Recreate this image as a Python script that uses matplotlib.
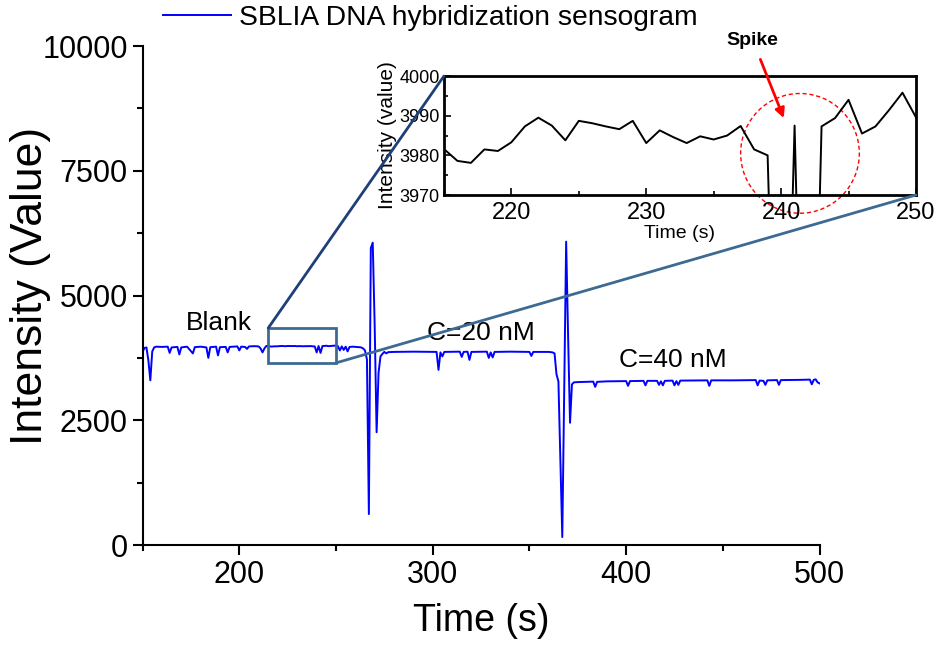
import matplotlib
matplotlib.use('Agg')
import matplotlib.pyplot as plt
from matplotlib.patches import Rectangle, Ellipse, ConnectionPatch
from matplotlib.ticker import MultipleLocator

plt.rcParams['font.family'] = ['Liberation Sans', 'DejaVu Sans']

# sensogram (time in s, intensity)
time_s = [150, 151, 152, 153, 154, 155, 156, 157, 160, 163, 164, 165, 168, 169, 170,
          173, 176, 177, 180, 183, 184, 185, 188, 189, 190, 193, 194, 195, 197, 199,
          200, 201, 203, 204, 205, 208, 210, 211, 212, 213, 214,
          215, 216, 217, 218, 219, 220, 221, 222, 223, 224, 225, 226, 227, 228, 229,
          230, 231, 232, 233, 234, 235, 236, 237, 238, 239, 240, 241, 242, 243, 244,
          245, 246, 247, 248, 249, 250,
          251, 252, 253, 254, 255, 256, 257, 259, 260, 262, 263, 264, 265, 266, 267,
          268, 269, 270, 271, 272, 273, 274, 275, 276, 277, 280, 290, 302, 303, 304,
          305, 306, 314, 315, 316, 318, 319, 320, 328, 329, 330, 331, 332, 340, 350,
          351, 352, 360, 362, 363, 364, 365, 366, 367, 368, 369, 370, 371, 372, 373,
          375, 380, 383, 384, 385, 390, 400, 401, 402, 409, 410, 411, 416, 417, 418,
          419, 420, 424, 425, 426, 427, 428, 442, 443, 444, 455, 467, 468, 469, 471,
          472, 473, 478, 479, 480, 490, 495, 496, 497, 498, 499, 500]
intensity = [3870, 3950, 3960, 3700, 3300, 3880, 3960, 3975, 3970, 3975, 3850, 3960, 3970, 3820, 3960,
             3975, 3840, 3965, 3975, 3960, 3750, 3965, 3975, 3800, 3965, 3970, 3860, 3970, 3975, 3980,
             3900, 3975, 3970, 3930, 3980, 3985, 3980, 3940, 3860, 3940, 3990,
             3981.6, 3978.6, 3978.1, 3981.5, 3981.1, 3983.3, 3987.3, 3989.5, 3987.5, 3983.8,
             3988.7, 3988.1, 3987.3, 3986.6, 3988.7, 3983.1, 3986.3, 3984.6, 3983.1, 3984.8,
             3984.0, 3985.0, 3987.4, 3981.5, 3980.0, 3860, 3987.5, 3850, 3987.3, 3989.4,
             3994.0, 3985.5, 3987.3, 3991.4, 3995.8, 3989.6,
             3985, 3900, 3980, 3910, 3975, 3880, 3970, 3975, 3970, 3965, 3960, 3940, 3900, 3720, 620,
             5950, 6060, 4400, 2260, 3450, 3780, 3830, 3870, 3840, 3865, 3870, 3875, 3870, 3510, 3860,
             3780, 3870, 3875, 3770, 3870, 3875, 3710, 3870, 3875, 3750, 3860, 3760, 3870, 3875, 3870,
             3790, 3870, 3870, 3860, 3840, 3420, 3280, 1700, 160, 3200, 6080, 4200, 2450, 3220, 3260,
             3265, 3270, 3275, 3170, 3270, 3280, 3285, 3190, 3285, 3290, 3200, 3290, 3290, 3210, 3280,
             3200, 3290, 3295, 3200, 3285, 3210, 3295, 3300, 3190, 3300, 3300, 3305, 3200, 3295, 3290,
             3210, 3300, 3305, 3210, 3305, 3310, 3315, 3220, 3310, 3320, 3260, 3240]

zoom_t = (215, 250)
zoom_box_v = (3650, 4350)
inset_v = (3970, 4000)

stage_labels = ['Blank', 'C=20 nM', 'C=40 nM']
stage_t = [189.5, 325, 424]
stage_v = [4450, 4250, 3710]

fig = plt.figure(figsize=(9.38, 6.5), dpi=100)
ax = fig.add_axes([0.152, 0.1615, 0.7217, 0.7677])

line, = ax.plot(time_s, intensity, color='#0000ff', lw=1.4,
                label='SBLIA DNA hybridization sensogram')
ax.set_xlim(150, 500)
ax.set_ylim(0, 10000)
ax.xaxis.set_major_locator(MultipleLocator(100))
ax.xaxis.set_minor_locator(MultipleLocator(50))
ax.yaxis.set_major_locator(MultipleLocator(2500))
ax.yaxis.set_minor_locator(MultipleLocator(1250))
ax.tick_params(which='both', direction='out', width=1.5, labelsize=22)
ax.tick_params(which='major', length=7)
ax.tick_params(which='minor', length=4)
for s in ['top', 'right']:
    ax.spines[s].set_visible(False)
for s in ['left', 'bottom']:
    ax.spines[s].set_linewidth(1.5)
ax.set_xlabel('Time (s)', fontsize=27, labelpad=10)
ax.set_ylabel('Intensity (Value)', fontsize=32)
ax.yaxis.set_label_coords(-0.135, 0.52)

for lab, t, v in zip(stage_labels, stage_t, stage_v):
    ax.text(t, v, lab, fontsize=19, ha='center', va='center')

edge = '#3c6a92'
ax.add_patch(Rectangle((zoom_t[0], zoom_box_v[0]), zoom_t[1] - zoom_t[0],
                       zoom_box_v[1] - zoom_box_v[0], fill=False, ec=edge, lw=2, zorder=4))

fig.legend(handles=[line], loc='center left', bbox_to_anchor=(0.174, 0.972),
           frameon=False, fontsize=20.3, handlelength=2.4, handletextpad=0.3,
           borderpad=0, borderaxespad=0)

# inset
ins = fig.add_axes([0.4733, 0.70, 0.5032, 0.183])
ins.plot(time_s, intensity, color='black', lw=1.4)
ins.set_xlim(*zoom_t)
ins.set_ylim(*inset_v)
ins.xaxis.set_major_locator(MultipleLocator(10))
ins.xaxis.set_minor_locator(MultipleLocator(5))
ins.yaxis.set_major_locator(MultipleLocator(10))
ins.yaxis.set_minor_locator(MultipleLocator(5))
ins.tick_params(which='both', direction='in', width=1.2)
ins.tick_params(which='major', length=5)
ins.tick_params(which='minor', length=3)
ins.tick_params(axis='x', labelsize=17, pad=5)
ins.tick_params(axis='y', labelsize=13, pad=3)
for s in ins.spines.values():
    s.set_linewidth(2)
ins.set_xlabel('Time (s)', fontsize=14, labelpad=1)
ins.set_ylabel('Intensity (value)', fontsize=15, labelpad=2)

ins.add_patch(Ellipse((241.4, 3980.5), 8.8, 30.2, fill=False, ec='red', lw=1,
                      ls=(0, (3, 2)), clip_on=False))
ins.annotate('Spike', xy=(240.2, 3989.4), xytext=(237.9, 4009),
             fontsize=14, fontweight='bold', ha='center', va='center',
             annotation_clip=False,
             arrowprops=dict(arrowstyle='-|>', color='red', lw=2, shrinkA=6, shrinkB=0,
                             mutation_scale=14))

for xyA, xyB, col in [((zoom_t[0], zoom_box_v[1]), (0, 1), '#1f3f78'),
                      ((zoom_t[1], zoom_box_v[0]), (1, 0), edge)]:
    con = ConnectionPatch(xyA=xyA, coordsA=ax.transData, xyB=xyB, coordsB=ins.transAxes,
                          color=col, lw=2, zorder=5)
    fig.add_artist(con)

fig.savefig('out.png', dpi=100)
